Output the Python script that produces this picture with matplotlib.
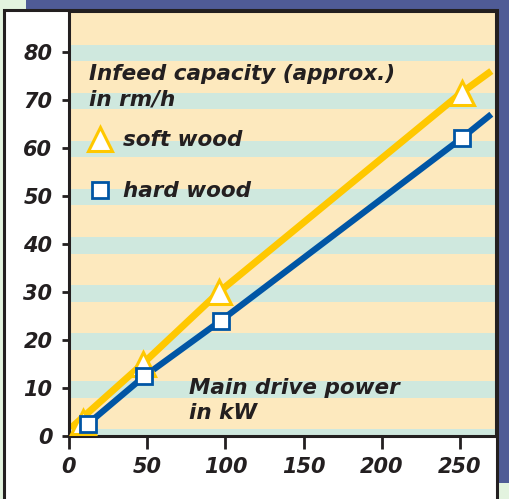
import matplotlib.pyplot as plt
import matplotlib.patches as mpatches
from matplotlib.lines import Line2D

# data
soft_x = [9, 47, 96, 251]
soft_y = [3, 15, 30, 71.5]
hard_x = [12, 48, 97, 251]
hard_y = [2.5, 12.4, 24, 62]
# the drawn lines run a bit past the measured points
soft_line_x = [1, 47, 96, 251, 270]
soft_line_y = [1.6, 15, 30, 71.5, 76]
hard_line_x = [12, 48, 97, 251, 270]
hard_line_y = [2.5, 12.4, 24, 62, 67]

xticks = [0, 50, 100, 150, 200, 250]
yticks = [0, 10, 20, 30, 40, 50, 60, 70, 80]

yellow = '#FFC800'
blue = '#0055A5'
beige = '#FDE9BE'
teal = '#CFE8DE'
navy = '#4F5B96'
pale = '#E3F3DF'
ink = '#231F20'

W, H = 510, 499
fig = plt.figure(figsize=(W / 100, H / 100), dpi=100)
fig.patch.set_facecolor(pale)

# background frame pieces (pixel boxes converted to figure fractions)
def box(x0, y0, x1, y1, **kw):
    r = mpatches.Rectangle((x0 / W, 1 - y1 / H), (x1 - x0) / W, (y1 - y0) / H,
                           transform=fig.transFigure, zorder=-10, **kw)
    fig.patches.append(r)

box(26, 0, 510, 11, facecolor=navy, edgecolor='none')
box(496, 0, 510, 483, facecolor=navy, edgecolor='none')
box(4, 10, 497, 505, facecolor='white', edgecolor=ink, linewidth=2.2)

ax = fig.add_axes([69 / W, 1 - 436 / H, (496 - 69) / W, (436 - 11) / H])
ax.set_facecolor(beige)
for t in yticks:
    ax.axhspan(t - 2, t + 1.5, color=teal, lw=0, zorder=0)

ax.plot(soft_line_x, soft_line_y, color=yellow, lw=5, solid_capstyle='butt', zorder=2)
ax.plot(hard_line_x, hard_line_y, color=blue, lw=4.5, solid_capstyle='butt', zorder=3)
ax.plot(soft_x, soft_y, ls='none', marker='^', ms=17, mfc='white', mec=yellow, mew=2.2, zorder=4)
ax.plot(hard_x, hard_y, ls='none', marker='s', ms=11.5, mfc='white', mec=blue, mew=2, zorder=5)

ax.set_xlim(0, 273)
ax.set_ylim(0, 88.5)
ax.set_xticks(xticks)
ax.set_yticks(yticks)

tick_fnt = dict(fontsize=15, fontweight='bold', fontstyle='italic', color=ink)
fnt = dict(fontsize=15.5, fontweight='bold', fontstyle='italic', color=ink)
ax.set_xticklabels([str(v) for v in xticks], **tick_fnt)
ax.set_yticklabels([str(v) for v in yticks], **tick_fnt)
ax.tick_params(axis='x', length=9, width=2, color=ink, pad=6)
ax.tick_params(axis='y', length=5, width=2, color=ink, pad=7)
for s in ax.spines.values():
    s.set_color(ink)
    s.set_linewidth(2.2)

ax.text(12.8, 75.4, 'Infeed capacity (approx.)', va='center', ha='left', **fnt)
ax.text(12.8, 70, 'in rm/h', va='center', ha='left', **fnt)
ax.text(77, 10, 'Main drive power', va='center', ha='left', **fnt)
ax.text(77, 4.8, 'in kW', va='center', ha='left', **fnt)

handles = [
    Line2D([], [], ls='none', marker='^', ms=17, mfc='white', mec=yellow, mew=2.2),
    Line2D([], [], ls='none', marker='s', ms=11.5, mfc='white', mec=blue, mew=2),
]
leg = ax.legend(handles, ['soft wood', 'hard wood'], loc='upper left',
                bbox_to_anchor=(0.0, 0.765), frameon=False,
                prop=dict(size=15.5, weight='bold', style='italic'),
                labelspacing=1.45, handlelength=1.1, handletextpad=0.5)
for t in leg.get_texts():
    t.set_color(ink)

fig.savefig('out.png', dpi=100, facecolor=fig.get_facecolor())
